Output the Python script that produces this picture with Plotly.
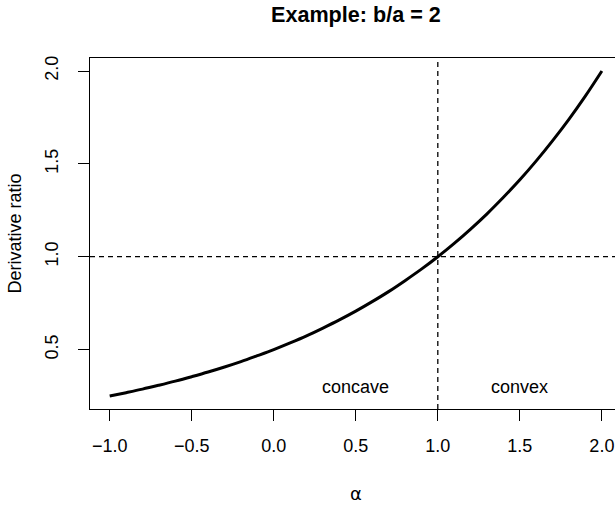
"""
Derivative ratio vs alpha, example b/a = 2
"""

import plotly.graph_objects as go


# values
alpha = [-1.0, -0.9, -0.8, -0.7, -0.6, -0.5, -0.4, -0.3, -0.2, -0.1,
         0.0, 0.1, 0.2, 0.3, 0.4, 0.5, 0.6, 0.7, 0.8, 0.9,
         1.0, 1.1, 1.2, 1.3, 1.4, 1.5, 1.6, 1.7, 1.8, 1.9, 2.0]
ratio = [0.250, 0.268, 0.287, 0.308, 0.330, 0.354, 0.379, 0.406, 0.435, 0.467,
         0.500, 0.536, 0.574, 0.616, 0.660, 0.707, 0.758, 0.812, 0.871, 0.933,
         1.000, 1.072, 1.149, 1.231, 1.320, 1.414, 1.516, 1.625, 1.741, 1.866, 2.000]
x_ticks = [-1.0, -0.5, 0.0, 0.5, 1.0, 1.5, 2.0]
x_labels = ['−1.0', '−0.5', '0.0', '0.5', '1.0', '1.5', '2.0']
y_ticks = [0.5, 1.0, 1.5, 2.0]
y_labels = ['0.5', '1.0', '1.5', '2.0']
ref_alpha = 1.0
ref_ratio = 1.0
regions = ['concave', 'convex']
region_x = [0.5, 1.5]
region_y = 0.3

FONT = 'Liberation Sans, Arial, Helvetica, sans-serif'
X_RANGE = [-1.12, 2.08]
Y_RANGE = [0.18, 2.07]
W, H = 615, 506
ML, MT, MB = 90, 58, 97
PW, PH = W - ML, H - MT - MB

fig = go.Figure()
fig.add_trace(go.Scatter(x=alpha, y=ratio, mode='lines', line_shape='spline',
                         line=dict(color='black', width=3), showlegend=False,
                         hoverinfo='skip'))

# reference lines
fig.add_shape(type='line', xref='x', yref='paper', x0=ref_alpha, x1=ref_alpha, y0=0, y1=1,
              line=dict(color='black', width=1.3, dash='5px,4px'))
fig.add_shape(type='line', xref='paper', yref='y', x0=0, x1=1, y0=ref_ratio, y1=ref_ratio,
              line=dict(color='black', width=1.3, dash='5px,4px'))

for txt, xv in zip(regions, region_x):
    fig.add_annotation(x=xv, y=region_y, text=txt, showarrow=False,
                       font=dict(family=FONT, size=18, color='black'))

cx = (356 - 90) / PW
fig.add_annotation(xref='paper', yref='paper', x=cx, y=1 + 43 / PH, yanchor='middle',
                   text='<b>Example: b/a = 2</b>', showarrow=False,
                   font=dict(family=FONT, size=21.6, color='black'))
fig.add_annotation(xref='paper', yref='paper', x=cx, y=-85 / PH, yanchor='middle',
                   text='α', showarrow=False,
                   font=dict(family='DejaVu Sans, sans-serif', size=18, color='black'))
fig.add_annotation(xref='paper', yref='paper', x=-76 / PW, y=0.5, xanchor='center',
                   text='Derivative ratio', showarrow=False, textangle=-90,
                   font=dict(family=FONT, size=18, color='black'))

fig.update_xaxes(range=X_RANGE, tickvals=x_ticks, ticktext=x_labels,
                 showgrid=False, zeroline=False, showline=True, mirror=True,
                 linecolor='black', linewidth=1.3, ticks='outside', ticklen=11,
                 tickwidth=1.3, tickcolor='black', automargin=False, ticklabelstandoff=9,
                 tickfont=dict(family=FONT, size=18, color='black'))
fig.update_yaxes(range=Y_RANGE, tickvals=y_ticks, ticktext=y_labels,
                 tickangle=-90, showgrid=False, zeroline=False, showline=True,
                 linecolor='black', linewidth=1.3, ticks='outside', ticklen=11,
                 tickwidth=1.3, tickcolor='black', automargin=False, ticklabelstandoff=13,
                 tickfont=dict(family=FONT, size=18, color='black'))
fig.update_layout(width=W, height=H, margin=dict(l=ML, r=0, t=MT, b=MB),
                  plot_bgcolor='white', paper_bgcolor='white')
# drop the default body margin so the figure sits at the page corner
fig.write_html('out.html', config={'displayModeBar': False},
               post_script="document.body.style.margin='0';")
